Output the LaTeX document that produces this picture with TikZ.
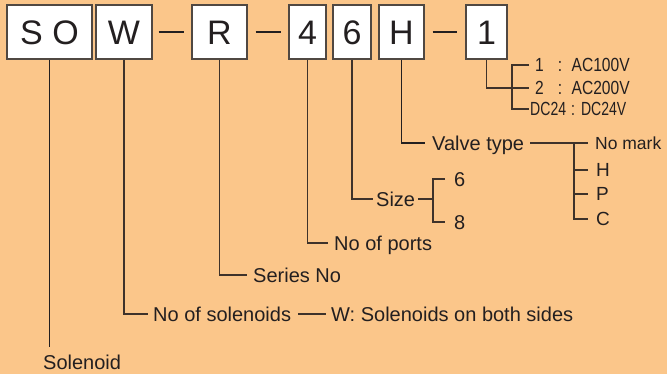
\documentclass[tikz,border=0pt]{standalone}
\usepackage{fontspec}
\setmainfont{Liberation Sans}
\newfontfamily\condfont[FakeStretch=0.82]{Liberation Sans}
\newfontfamily\conddc[FakeStretch=0.74]{Liberation Sans}
\definecolor{bgC}{RGB}{251,198,138}
\definecolor{lineC}{RGB}{62,50,42}
\definecolor{darkC}{RGB}{35,31,32}
\definecolor{boxC}{RGB}{80,72,66}
\definecolor{txtC}{RGB}{35,31,32}
\begin{document}
\begin{tikzpicture}[x=1pt,y=-1pt,
  box/.style={draw=boxC, line width=1.4pt, fill=white, minimum height=54pt, inner sep=0pt,
    font=\fontsize{34}{34}\selectfont, text=txtC, text height=24.5pt, text depth=0pt},
  lbl/.style={anchor=west, inner sep=0pt, font=\fontsize{20}{20}\selectfont, text=txtC,
    text height=14.2pt, text depth=0pt},
  rlbl/.style={lbl, font=\fontsize{19}{19}\selectfont, text height=13.6pt},
  nmlbl/.style={lbl, font=\fontsize{17.5}{17.5}\selectfont, text height=12.5pt},
  sm/.style={lbl, font=\condfont\fontsize{19}{19}\selectfont, text height=13.4pt},
  smdc/.style={lbl, font=\conddc\fontsize{19}{19}\selectfont, text height=13.4pt},
  conn/.style={draw=lineC, line width=1.3pt},
  strong/.style={draw=darkC, line width=1.8pt},
  dashbar/.style={draw=darkC, line width=2pt}]
\fill[bgC] (0,0) rectangle (667,374);
\useasboundingbox (0,0) rectangle (667,374);

% boxes
\node[box, minimum width=85pt] (bSO) at (49.5,32) {S O};
\node[box, minimum width=56pt] (bW) at (124,32) {W};
\node[box, minimum width=55pt] (bR) at (219.5,32) {R};
\node[box, minimum width=37pt] (b4) at (307.5,32) {4};
\node[box, minimum width=38pt] (b6) at (352,32) {6};
\node[box, minimum width=45pt] (bH) at (401.5,32) {H};
\node[box, minimum width=41pt] (b1) at (486.5,32) {1};

% dashes
\draw[dashbar] ([xshift=6pt]bW.east) -- ([xshift=-7pt]bR.west);
\draw[dashbar] ([xshift=8pt]bR.east) -- ([xshift=-7pt]b4.west);
\draw[dashbar] ([xshift=8pt]bH.east) -- ([xshift=-8pt]b1.west);

% labels
\node[lbl] (lSol) at (43,362) {Solenoid};
\node[lbl] (lNs) at (153,314) {No of solenoids};
\node[lbl] (lWs) at (331,314) {W: Solenoids on both sides};
\node[lbl] (lSer) at (253,275) {Series No};
\node[lbl] (lPorts) at (334,243) {No of ports};
\node[lbl] (lSize) at (376,199) {Size};
\node[lbl] (l6) at (454,179) {6};
\node[lbl] (l8) at (454,222) {8};
\node[lbl] (lVt) at (432,143) {Valve type};
\node[nmlbl] (lNm) at (595,143) {No mark};
\node[rlbl] (lH) at (596,170) {H};
\node[rlbl] (lP) at (596,194) {P};
\node[rlbl] (lC) at (596,219) {C};
\node[sm] (lA1) at (535,65) {1\hspace{14pt}:\hspace{9.5pt}AC100V};
\node[sm] (lA2) at (535,88) {2\hspace{14pt}:\hspace{9.5pt}AC200V};
\node[smdc] (lDc) at (530,109) {DC24\hspace{5pt}:\hspace{6pt}DC24V};

% coordinates for free ends / junctions
\coordinate (solEnd) at (49.5,347);
\coordinate (szB) at (433,222);
\coordinate (vtB) at (574,219);
\coordinate (acB) at (512,109);

% connectors
\draw[strong] (bSO.south) -- (solEnd);
\draw[conn] (bW.south) |- ([xshift=-5pt]lNs.west);
\draw[conn] ([xshift=7pt]lNs.east) -- ([xshift=-5pt]lWs.west);
\draw[conn] (bR.south) |- ([xshift=-6pt]lSer.west);
\draw[conn] (b4.south) |- ([xshift=-6pt]lPorts.west);
\draw[conn] (b6.south) |- ([xshift=-3pt]lSize.west);
\draw[conn] ([xshift=3pt]lSize.east) -- (lSize.east -| szB);
\draw[conn] ([xshift=-9pt]l6.west) -| (szB) -- ([xshift=-9pt]l8.west);
\draw[strong] (bH.south) |- ([xshift=-7pt]lVt.west);
\draw[conn] ([xshift=6pt]lVt.east) -- ([xshift=-7pt]lNm.west);
\draw[conn] (lVt.east -| vtB) -- (vtB) -- ([xshift=-8pt]lC.west);
\draw[conn] (lH.west -| vtB) -- ([xshift=-8pt]lH.west);
\draw[conn] (lP.west -| vtB) -- ([xshift=-8pt]lP.west);
\draw[conn] (b1.south) |- ([xshift=-6pt]lA2.west);
\draw[conn] ([xshift=-6pt]lA1.west) -| (acB) -- ([xshift=-1pt]lDc.west);
\end{tikzpicture}
\end{document}
